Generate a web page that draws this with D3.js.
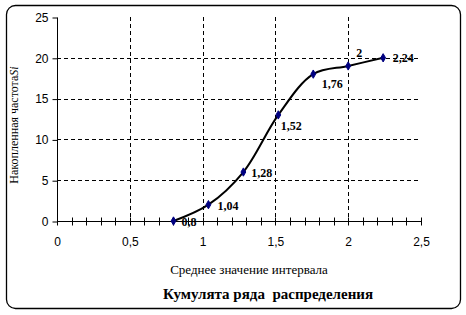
<!DOCTYPE html>
<html><head><meta charset="utf-8">
<script src="https://cdn.jsdelivr.net/npm/d3@7"></script>
<style>body{margin:0;background:#fff}svg{display:block}</style>
</head><body>
<script>
const xValues = [0.8, 1.04, 1.28, 1.52, 1.76, 2, 2.24];
const yValues = [0, 2, 6, 13, 18, 19, 20];
const pointLabels = ["0,8", "1,04", "1,28", "1,52", "1,76", "2", "2,24"];
const xTicks = [0, 0.5, 1, 1.5, 2, 2.5];
const xTickLabels = ["0", "0,5", "1", "1,5", "2", "2,5"];
const yTicks = [0, 5, 10, 15, 20, 25];
const title = "Кумулята ряда  распределения";
const xTitle = "Среднее значение интервала";
const yTitle = "Накопленная частота";

const W = 466, H = 315;
const svg = d3.select("body").append("svg").attr("width", W).attr("height", H);
svg.append("rect").attr("x", 6.5).attr("y", 5.5).attr("width", 454).attr("height", 303)
  .attr("rx", 9).attr("ry", 9).attr("fill", "#fff").attr("stroke", "#000").attr("stroke-width", 1.3);

const L = 57, R = 421, T = 17, B = 221;
const x = d3.scaleLinear().domain([0, 2.5]).range([L, R]);
const y = d3.scaleLinear().domain([0, 25]).range([B, T]);

// grid
const g = svg.append("g");
g.selectAll("line.h").data(yTicks.filter(v => v > 0 && v < 25)).enter().append("line")
  .attr("x1", L).attr("x2", R).attr("y1", d => Math.round(y(d)) + 0.5).attr("y2", d => Math.round(y(d)) + 0.5)
  .attr("stroke", "#000").attr("stroke-dasharray", "4,3");
g.selectAll("line.v").data(xTicks.filter(v => v > 0 && v < 2.5)).enter().append("line")
  .attr("x1", d => Math.round(x(d)) + 0.5).attr("x2", d => Math.round(x(d)) + 0.5).attr("y1", T).attr("y2", B)
  .attr("stroke", "#000").attr("stroke-dasharray", "4,3");

// y axis
const yAxis = d3.axisLeft(y).tickValues(yTicks).tickSize(5).tickFormat(d3.format("d"));
const ya = svg.append("g").attr("transform", `translate(${L + 0.5},0.5)`).call(yAxis);
ya.selectAll("text").attr("font-family", "Liberation Sans, Arial").attr("font-size", 12).attr("fill", "#000").attr("x", -9);
ya.selectAll("line").attr("stroke", "#000");
ya.select(".domain").attr("stroke", "#000").attr("d", `M0,${T}V${B}`);

// x axis
const minor = d3.range(0, 26).map(i => i / 10);
const xa = svg.append("g").attr("transform", `translate(0.5,${B + 0.5})`);
xa.append("line").attr("x1", L).attr("x2", R).attr("stroke", "#000");
xa.selectAll("line.t").data(minor).enter().append("line")
  .attr("x1", d => Math.round(x(d))).attr("x2", d => Math.round(x(d))).attr("y1", -4).attr("y2", 4)
  .attr("stroke", "#000");
xa.selectAll("text").data(xTicks).enter().append("text")
  .attr("x", d => x(d)).attr("y", 24).attr("text-anchor", "middle")
  .attr("font-family", "Liberation Sans, Arial").attr("font-size", 12).text((d, i) => xTickLabels[i]);

// line
const pts = xValues.map((v, i) => [x(v), y(yValues[i])]);
svg.append("path").attr("d", d3.line().curve(d3.curveCatmullRom.alpha(0.5))(pts))
  .attr("fill", "none").attr("stroke", "#000").attr("stroke-width", 2);

// markers
svg.selectAll("path.m").data(pts).enter().append("path")
  .attr("d", d3.symbol().type(d3.symbolDiamond).size(20))
  .attr("transform", d => `translate(${d[0]},${d[1]})`).attr("fill", "#000080").attr("stroke", "#000080");

// labels
const offs = [[8, 5], [9, 5], [8, 4.5], [2.5, 15.5], [8.5, 13.5], [8, -9], [9.5, 4.5]];
svg.selectAll("text.pl").data(pts).enter().append("text")
  .attr("x", (d, i) => d[0] + offs[i][0]).attr("y", (d, i) => d[1] + offs[i][1])
  .attr("font-family", "Liberation Serif, Times New Roman").attr("font-weight", "bold").attr("font-size", 12)
  .text((d, i) => pointLabels[i]);

// titles
svg.append("text").attr("x", 249).attr("y", 274).attr("text-anchor", "middle")
  .attr("font-family", "Liberation Serif, Times New Roman").attr("font-size", 13).text(xTitle);
svg.append("text").attr("x", 268).attr("y", 299).attr("text-anchor", "middle").style("white-space", "pre")
  .attr("font-family", "Liberation Serif, Times New Roman").attr("font-weight", "bold").attr("font-size", 15).text(title);
const yt = svg.append("text").attr("transform", "translate(18,125) rotate(-90)").attr("text-anchor", "middle")
  .attr("font-family", "Liberation Serif, Times New Roman").attr("font-size", 12);
yt.append("tspan").text(yTitle);
yt.append("tspan").attr("font-style", "italic").text("Si");
</script>
</body></html>
